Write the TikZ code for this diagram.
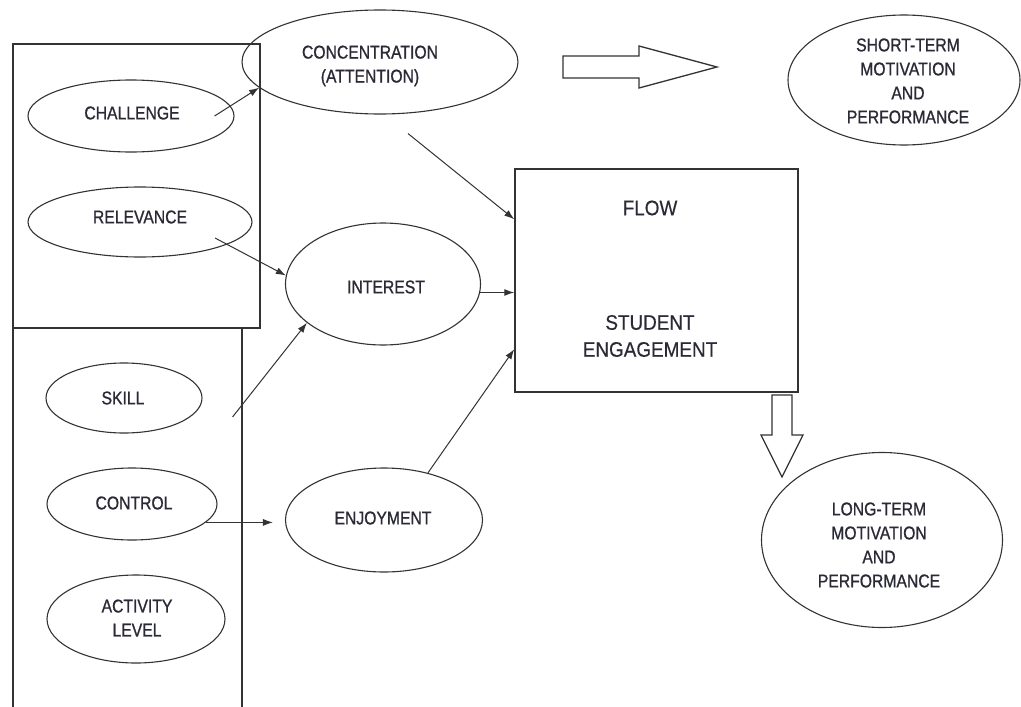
\documentclass[tikz,border=0pt]{standalone}
\usepackage{fontspec}
\newfontfamily\condf{Liberation Sans}[FakeStretch=0.85,FakeBold=0.9]
\newfontfamily\flowf{Liberation Sans}[FakeStretch=0.9,FakeBold=0.3]
\usetikzlibrary{shapes.geometric,arrows.meta,calc}
\definecolor{ink}{HTML}{2A2A36}
\definecolor{edge}{HTML}{333333}
\begin{document}
\begin{tikzpicture}[x=1pt,y=-1pt,
  ell/.style={ellipse,draw=edge,line width=1.1pt,inner sep=0pt},
  lbl/.style={font=\condf\fontsize{18.5}{24}\selectfont,text=ink,align=center,inner sep=0pt},
  flbl/.style={font=\flowf\fontsize{21}{27}\selectfont,text=ink,align=center,inner sep=0pt},
  arr/.style={draw=edge,line width=1pt,-{Latex[length=10pt,width=7pt]}},
  frame/.style={draw=edge,line width=1.5pt},
  hollow/.style={draw=edge,line width=1.3pt,fill=white,line join=miter}]
\useasboundingbox[fill=white] (0,0) rectangle (1021,707);

% left frames
\draw[frame] (13,44) rectangle (260,328);
\draw[frame] (13,328) -- (13,707);
\draw[frame] (242,328) -- (242,707);

% ellipses
\node[ell,minimum width=206pt,minimum height=72pt] (chal) at (131,116) {};
\node[lbl] (chalT) at (132,113) {CHALLENGE};
\node[ell,minimum width=224pt,minimum height=70pt] (rel) at (140,222) {};
\node[lbl] (relT) at (140,217) {RELEVANCE};
\node[ell,minimum width=276pt,minimum height=104pt] (conc) at (380,62) {};
\node[lbl] (concT) at (370,66) {CONCENTRATION\\(ATTENTION)};
\node[ell,minimum width=232pt,minimum height=130pt] (short) at (904,80) {};
\node[lbl] (shortT) at (908,81) {SHORT-TERM\\MOTIVATION\\AND\\PERFORMANCE};
\node[ell,minimum width=195pt,minimum height=122pt] (int) at (383,284) {};
\node[lbl] (intT) at (386,287) {INTEREST};
\node[ell,minimum width=197pt,minimum height=104pt] (enj) at (384,520) {};
\node[lbl] (enjT) at (383,518) {ENJOYMENT};
\node[ell,minimum width=156pt,minimum height=70pt] (skill) at (124,398) {};
\node[lbl] (skillT) at (123,398) {SKILL};
\node[ell,minimum width=170pt,minimum height=72pt] (ctrl) at (132,504) {};
\node[lbl] (ctrlT) at (134,503) {CONTROL};
\node[ell,minimum width=178pt,minimum height=88pt] (act) at (136,619) {};
\node[lbl] (actT) at (137,618) {ACTIVITY\\LEVEL};
\node[ell,minimum width=241pt,minimum height=175pt] (long) at (882,540) {};
\node[lbl] (longT) at (879,545) {LONG-TERM\\MOTIVATION\\AND\\PERFORMANCE};

% flow box
\node[draw=edge,line width=1.5pt,minimum width=283pt,minimum height=223pt,inner sep=0pt] (flow) at (656.5,280.5) {};
\node[flbl] (flowT) at (650,208) {FLOW};
\node[flbl] (seT) at (650,336) {STUDENT\\ENGAGEMENT};

% connectors
\draw[arr] ($(chal.east)+(-20,0)$) -- (conc.192);
\draw[arr] ($(conc.south)+(28,19)$) -- ($(flow.north west)+(0,51)$);
\draw[arr] ($(rel.center)+(75,16)$) -- (int.175);
\draw[arr] (int.-5) -- (int.-5 -| flow.west);
\draw[arr] ($(skill.east)+(30,19)$) -- (int.207);
\draw[arr,shorten >=12pt] (ctrl.-14) -- (ctrl.-14 -| enj.west);
\draw[arr] (enj.47) -- ($(flow.north west)+(0,181)$);

% hollow arrows
\draw[hollow] (563,56) -- (639,56) -- (639,46) -- (717,67) -- (639,88) -- (639,78) -- (563,78) -- cycle;
\draw[hollow] (772,395) -- (792,395) -- (792,435) -- (803,435) -- (782,477) -- (761,435) -- (772,435) -- cycle;
\end{tikzpicture}
\end{document}
